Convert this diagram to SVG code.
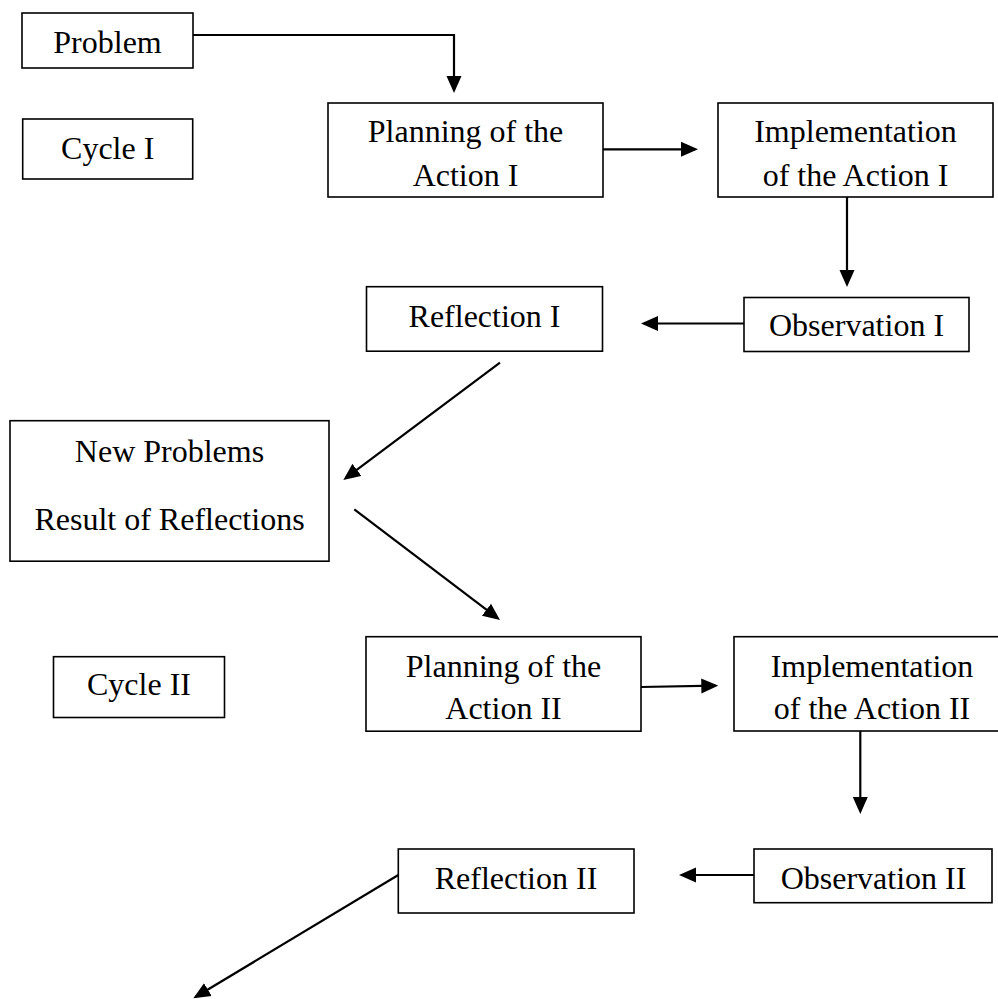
<svg xmlns="http://www.w3.org/2000/svg" width="998" height="999" viewBox="0 0 998 999">
<style>
.box{fill:#fff;stroke:#000;stroke-width:1.6}
.t{font-size:32px;fill:#000;text-anchor:middle}
.c{fill:none;stroke:#000;stroke-width:2.2}
</style>
<defs>
<marker id="ah" markerUnits="userSpaceOnUse" markerWidth="17" markerHeight="16" viewBox="0 0 17 16" refX="14" refY="8" orient="auto">
<path d="M0,0.5 L17,8 L0,15.5 z" fill="#000"/>
</marker>
</defs>
<rect width="998" height="999" fill="#fff"/>
<g id="connectors">
<path class="c" d="M193,35 H454 V90" marker-end="url(#ah)"/>
<path class="c" d="M603,149.3 H695" marker-end="url(#ah)"/>
<path class="c" d="M847,197 V284" marker-end="url(#ah)"/>
<path class="c" d="M744,323.5 H644" marker-end="url(#ah)"/>
<path class="c" d="M500,362.7 L345.7,478.2" marker-end="url(#ah)"/>
<path class="c" d="M354.3,509.3 L497.6,618.2" marker-end="url(#ah)"/>
<path class="c" d="M641,687 L715.3,685.7" marker-end="url(#ah)"/>
<path class="c" d="M860.3,731 V811" marker-end="url(#ah)"/>
<path class="c" d="M754,875 H682" marker-end="url(#ah)"/>
<path class="c" d="M398.3,875 L195.9,996.8" marker-end="url(#ah)"/>
</g>
<g font-family="'Liberation Serif', 'Times New Roman', Times, 'DejaVu Serif', serif">
<g id="problem"><rect class="box" x="22" y="13" width="171" height="55"/><text class="t" x="107.5" y="53">Problem</text></g>
<g id="cycle1"><rect class="box" x="22.7" y="119" width="170" height="60"/><text class="t" x="107.7" y="159">Cycle I</text></g>
<g id="planning1"><rect class="box" x="328" y="103" width="275" height="94"/><text class="t" x="465.5" y="142">Planning of the</text><text class="t" x="465.5" y="186">Action I</text></g>
<g id="impl1"><rect class="box" x="718" y="103" width="275" height="94"/><text class="t" x="855.5" y="142">Implementation</text><text class="t" x="855.5" y="186">of the Action I</text></g>
<g id="obs1"><rect class="box" x="744" y="297.5" width="225" height="54"/><text class="t" x="856.5" y="336">Observation I</text></g>
<g id="refl1"><rect class="box" x="366.5" y="286.7" width="236" height="64.5"/><text class="t" x="484.5" y="327">Reflection I</text></g>
<g id="newproblems"><rect class="box" x="10" y="420.7" width="319" height="140.5"/><text class="t" x="169.5" y="461.5">New Problems</text><text class="t" x="169.5" y="530">Result of Reflections</text></g>
<g id="cycle2"><rect class="box" x="53.5" y="656.7" width="171" height="60.8"/><text class="t" x="139" y="695">Cycle II</text></g>
<g id="planning2"><rect class="box" x="366" y="636.7" width="275" height="94.5"/><text class="t" x="503.5" y="677">Planning of the</text><text class="t" x="503.5" y="719">Action II</text></g>
<g id="impl2"><rect class="box" x="734" y="636.7" width="276" height="94.3"/><text class="t" x="872" y="677">Implementation</text><text class="t" x="872" y="719">of the Action II</text></g>
<g id="obs2"><rect class="box" x="754" y="849" width="238" height="53.7"/><text class="t" x="873.5" y="889">Observation II</text></g>
<g id="refl2"><rect class="box" x="398.3" y="849" width="235.7" height="64"/><text class="t" x="516" y="889">Reflection II</text></g>
</g>
</svg>
